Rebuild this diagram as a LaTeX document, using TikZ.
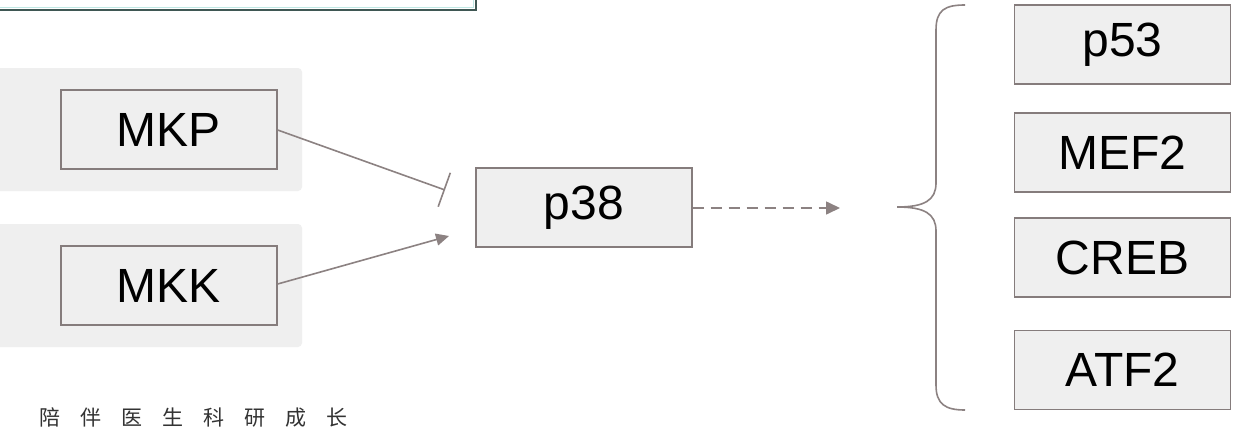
\documentclass[tikz,border=0pt]{standalone}
\usepackage{fontspec}
\setmainfont{Liberation Sans}
\newfontfamily\cjk{Noto Sans CJK SC}
\usetikzlibrary{arrows.meta,decorations.pathreplacing}
\definecolor{bgg}{HTML}{EFEFEF}
\definecolor{bxd}{HTML}{857C7C}
\definecolor{ln}{HTML}{8C8282}
\definecolor{frm}{HTML}{3F5753}
\definecolor{frmi}{HTML}{BFE8E4}
\tikzset{
  gbox/.style={draw=bxd, line width=1.3pt, fill=bgg, minimum width=216pt, minimum height=79pt, inner sep=0pt, font=\fontsize{48}{52}\selectfont, text=black},
  bgpanel/.style={fill=bgg, draw=none, rounded corners=4pt},
  conn/.style={draw=ln, line width=1.6pt},
}
\begin{document}
\begin{tikzpicture}[x=1pt,y=-1pt]
\useasboundingbox (0,0) rectangle (1252,444);
\fill[white] (0,0) rectangle (1252,444);
% top frame
\draw[frmi, line width=1pt] (-5,-5) rectangle (473.5,7.5);
\draw[frm, line width=2.2pt] (-5,-5) -- (-5,10) -- (476,10) -- (476,-5);
% background panels
\fill[bgpanel] (-10,68) rectangle (302,191);
\fill[bgpanel] (-10,224) rectangle (302,347);
% nodes
\node[gbox] (mkp) at (169,129.5) {MKP};
\node[gbox] (mkk) at (169,285.5) {MKK};
\node[gbox] (p38) at (584,207.5) {p38};
\node[gbox] (p53) at (1122.5,44.5) {p53};
\node[gbox] (mef) at (1122.5,152.5) {MEF2};
\node[gbox] (creb) at (1122.5,257.5) {CREB};
\node[gbox] (atf) at (1122.5,370) {ATF2};
\coordinate (inh) at (445,190);
\coordinate (act) at (449,236);
\coordinate (dend) at (840,208);
% connectors
\draw[conn, -{Bar[width=36pt,line width=1.6pt]}] (mkp.east |- 0,130) -- (inh);
\draw[conn, -{Triangle[length=13pt,width=12pt]}] (mkk.east |- 0,284) -- (act);
\draw[conn, dashed, dash pattern=on 11pt off 7pt, -{Triangle[length=14pt,width=13pt]}] (p38.east |- 0,208) -- (dend);
% brace
\draw[ln, line width=1.6pt] (965,5) .. controls (945,5) and (936,10) .. (936,30)
  -- (936,183) .. controls (936,200) and (925,207) .. (897,207)
  .. controls (925,207) and (936,214) .. (936,231)
  -- (936,385) .. controls (936,404) and (945,410) .. (965,410);
% footer
\node[anchor=west, inner sep=0pt, text=black!80, font=\cjk\fontsize{21}{24}\selectfont] (foot) at (39,418)
 {陪\hskip20pt 伴\hskip20pt 医\hskip20pt 生\hskip20pt 科\hskip20pt 研\hskip20pt 成\hskip20pt 长};
\end{tikzpicture}
\end{document}
